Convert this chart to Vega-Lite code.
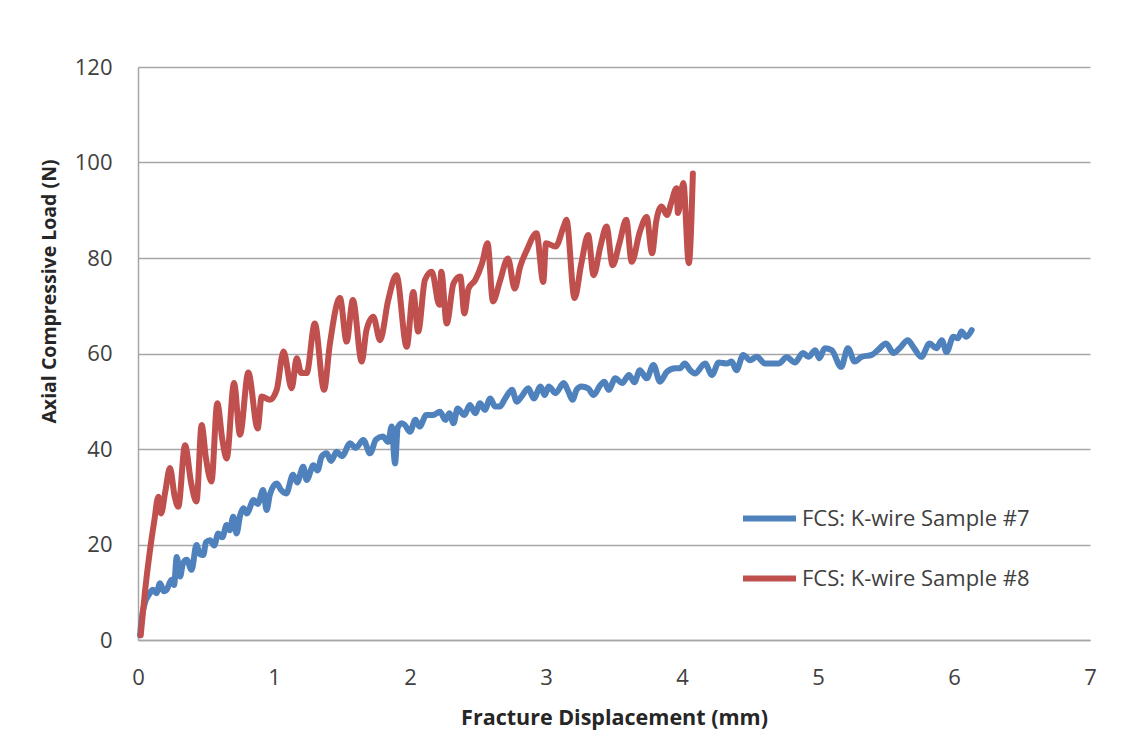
{
  "$schema": "https://vega.github.io/schema/vega-lite/v6.json",
  "width": 952,
  "height": 573,
  "autosize": {"type": "none"},
  "padding": {"left": 138, "top": 67, "right": 46, "bottom": 116},
  "background": "white",
  "config": {
    "view": {"stroke": null},
    "font": "Open Sans"
  },
  "datasets": {
    "s7": [
      {"x":0.015,"y":1},{"x":0.03,"y":5},{"x":0.05,"y":7.7},{"x":0.08,"y":9.5},{"x":0.11,"y":10.5},{"x":0.135,"y":9.8},{"x":0.162,"y":11.9},{"x":0.19,"y":10.2},{"x":0.21,"y":10.5},{"x":0.247,"y":12.6},{"x":0.265,"y":11.5},{"x":0.285,"y":17.4},{"x":0.31,"y":13.3},{"x":0.33,"y":16},{"x":0.358,"y":16.8},{"x":0.394,"y":14.7},{"x":0.43,"y":19.9},{"x":0.455,"y":18},{"x":0.48,"y":17.8},{"x":0.5,"y":20.5},{"x":0.53,"y":20.9},{"x":0.56,"y":19.8},{"x":0.59,"y":22.3},{"x":0.62,"y":21.5},{"x":0.652,"y":24.1},{"x":0.675,"y":23},{"x":0.7,"y":25.8},{"x":0.725,"y":22.3},{"x":0.75,"y":26},{"x":0.775,"y":27.6},{"x":0.8,"y":26.5},{"x":0.85,"y":29.3},{"x":0.88,"y":28.5},{"x":0.92,"y":31.4},{"x":0.946,"y":27.2},{"x":0.97,"y":30.5},{"x":1.02,"y":32.8},{"x":1.05,"y":31.5},{"x":1.09,"y":30.7},{"x":1.14,"y":34.6},{"x":1.17,"y":33},{"x":1.215,"y":36.3},{"x":1.24,"y":33.5},{"x":1.29,"y":36.6},{"x":1.32,"y":35.5},{"x":1.35,"y":38.4},{"x":1.387,"y":39.1},{"x":1.42,"y":37.5},{"x":1.46,"y":39.4},{"x":1.5,"y":38.5},{"x":1.56,"y":41.2},{"x":1.6,"y":40.2},{"x":1.657,"y":41.9},{"x":1.706,"y":39.1},{"x":1.75,"y":42},{"x":1.8,"y":42.6},{"x":1.84,"y":41.5},{"x":1.865,"y":44.7},{"x":1.89,"y":37},{"x":1.91,"y":44.5},{"x":1.94,"y":45.4},{"x":1.963,"y":45},{"x":2.0,"y":43.6},{"x":2.04,"y":46.1},{"x":2.07,"y":44.7},{"x":2.12,"y":47.1},{"x":2.17,"y":47.1},{"x":2.22,"y":47.8},{"x":2.26,"y":46.1},{"x":2.29,"y":47.5},{"x":2.32,"y":45.4},{"x":2.35,"y":48.5},{"x":2.4,"y":47.1},{"x":2.44,"y":49.2},{"x":2.48,"y":47.5},{"x":2.515,"y":49.6},{"x":2.55,"y":48.2},{"x":2.59,"y":50.6},{"x":2.625,"y":48.9},{"x":2.66,"y":48.9},{"x":2.7,"y":50.6},{"x":2.75,"y":52.4},{"x":2.785,"y":49.9},{"x":2.82,"y":51},{"x":2.87,"y":52.7},{"x":2.91,"y":50.6},{"x":2.96,"y":53.1},{"x":2.99,"y":51.3},{"x":3.02,"y":53.1},{"x":3.07,"y":51.7},{"x":3.13,"y":53.8},{"x":3.165,"y":52},{"x":3.195,"y":50.3},{"x":3.225,"y":52.4},{"x":3.26,"y":53.1},{"x":3.31,"y":52.7},{"x":3.35,"y":51.3},{"x":3.4,"y":53.4},{"x":3.43,"y":54.1},{"x":3.46,"y":52.4},{"x":3.51,"y":54.8},{"x":3.56,"y":53.8},{"x":3.61,"y":55.5},{"x":3.65,"y":54},{"x":3.69,"y":56.5},{"x":3.74,"y":54.8},{"x":3.79,"y":57.6},{"x":3.838,"y":54.1},{"x":3.89,"y":56.2},{"x":3.95,"y":56.9},{"x":3.985,"y":56.9},{"x":4.02,"y":57.9},{"x":4.06,"y":56.5},{"x":4.095,"y":55.8},{"x":4.17,"y":57.9},{"x":4.22,"y":55.5},{"x":4.27,"y":58.1},{"x":4.33,"y":57.9},{"x":4.365,"y":58.3},{"x":4.4,"y":56.5},{"x":4.45,"y":59.7},{"x":4.5,"y":58.6},{"x":4.55,"y":59.3},{"x":4.61,"y":57.9},{"x":4.71,"y":57.9},{"x":4.77,"y":59.2},{"x":4.83,"y":58.1},{"x":4.89,"y":60.1},{"x":4.93,"y":59.3},{"x":4.98,"y":60.7},{"x":5.01,"y":59},{"x":5.05,"y":61.1},{"x":5.1,"y":60.7},{"x":5.17,"y":57.2},{"x":5.22,"y":61.1},{"x":5.27,"y":58.3},{"x":5.32,"y":59.3},{"x":5.395,"y":59.7},{"x":5.44,"y":60.7},{"x":5.5,"y":62.1},{"x":5.555,"y":60.1},{"x":5.6,"y":61.1},{"x":5.66,"y":62.8},{"x":5.7,"y":61.4},{"x":5.76,"y":59.3},{"x":5.82,"y":62.1},{"x":5.87,"y":61.1},{"x":5.91,"y":62.8},{"x":5.945,"y":60.3},{"x":5.995,"y":63.5},{"x":6.03,"y":63.2},{"x":6.055,"y":64.6},{"x":6.09,"y":63.5},{"x":6.13,"y":64.9}
    ],
    "s8": [
      {"x":0.02,"y":1},{"x":0.05,"y":9.8},{"x":0.088,"y":18.8},{"x":0.12,"y":25},{"x":0.15,"y":30},{"x":0.17,"y":26.5},{"x":0.2,"y":31},{"x":0.235,"y":36},{"x":0.27,"y":30},{"x":0.296,"y":27.9},{"x":0.346,"y":40.8},{"x":0.39,"y":33},{"x":0.43,"y":29},{"x":0.468,"y":45},{"x":0.5,"y":38},{"x":0.54,"y":33.2},{"x":0.583,"y":49.6},{"x":0.62,"y":42},{"x":0.652,"y":38},{"x":0.706,"y":53.8},{"x":0.75,"y":43},{"x":0.811,"y":56},{"x":0.88,"y":44.3},{"x":0.909,"y":51},{"x":0.97,"y":50.3},{"x":1.02,"y":52.4},{"x":1.07,"y":60.4},{"x":1.13,"y":52.7},{"x":1.167,"y":59},{"x":1.2,"y":55.9},{"x":1.24,"y":55.9},{"x":1.3,"y":66.3},{"x":1.368,"y":52.4},{"x":1.41,"y":61.8},{"x":1.485,"y":71.6},{"x":1.534,"y":62.5},{"x":1.58,"y":71.2},{"x":1.645,"y":58.3},{"x":1.68,"y":64.9},{"x":1.73,"y":67.7},{"x":1.78,"y":62.8},{"x":1.84,"y":71.2},{"x":1.9,"y":76.4},{"x":1.976,"y":61.4},{"x":2.024,"y":72.9},{"x":2.06,"y":64.6},{"x":2.11,"y":75.4},{"x":2.16,"y":77.1},{"x":2.216,"y":70.2},{"x":2.23,"y":77.1},{"x":2.27,"y":66.3},{"x":2.32,"y":74.7},{"x":2.37,"y":76.1},{"x":2.4,"y":68.4},{"x":2.43,"y":73.6},{"x":2.48,"y":75.4},{"x":2.53,"y":78.9},{"x":2.57,"y":83.1},{"x":2.61,"y":70.9},{"x":2.66,"y":75},{"x":2.72,"y":79.9},{"x":2.77,"y":73.6},{"x":2.81,"y":78.2},{"x":2.86,"y":81.7},{"x":2.93,"y":85.2},{"x":2.98,"y":75},{"x":3.0,"y":83.1},{"x":3.07,"y":82.4},{"x":3.13,"y":86.6},{"x":3.15,"y":88},{"x":3.21,"y":71.6},{"x":3.26,"y":78.9},{"x":3.31,"y":84.8},{"x":3.35,"y":76.4},{"x":3.4,"y":82.4},{"x":3.445,"y":86.6},{"x":3.49,"y":78.5},{"x":3.54,"y":83.1},{"x":3.59,"y":88},{"x":3.63,"y":79.2},{"x":3.69,"y":85.5},{"x":3.74,"y":88.6},{"x":3.78,"y":81},{"x":3.81,"y":87.6},{"x":3.85,"y":90.8},{"x":3.89,"y":89},{"x":3.92,"y":91.5},{"x":3.96,"y":94.6},{"x":3.97,"y":89.4},{"x":4.01,"y":95.7},{"x":4.05,"y":78.9},{"x":4.08,"y":97.7}
    ]
  },
  "layer": [
    {
      "data": {"name": "s7"},
      "transform": [{"calculate": "'FCS: K-wire Sample #7'", "as": "sample"}],
      "mark": {"type": "line", "strokeWidth": 6, "interpolate": "monotone", "strokeCap": "round", "strokeJoin": "round"},
      "encoding": {
        "x": {"field": "x", "type": "quantitative"},
        "y": {"field": "y", "type": "quantitative"},
        "color": {"field": "sample", "type": "nominal"}
      }
    },
    {
      "data": {"name": "s8"},
      "transform": [{"calculate": "'FCS: K-wire Sample #8'", "as": "sample"}],
      "mark": {"type": "line", "strokeWidth": 6, "interpolate": "monotone", "strokeCap": "round", "strokeJoin": "round"},
      "encoding": {
        "x": {
          "field": "x", "type": "quantitative",
          "scale": {"domain": [0, 7], "nice": false, "zero": true},
          "axis": {
            "values": [0,1,2,3,4,5,6,7],
            "format": "d",
            "labelFlush": false,
            "title": "Fracture Displacement (mm)",
            "grid": false,
            "ticks": false,
            "domain": true, "domainColor": "#A6A6A6", "domainWidth": 1.5,
            "labelFont": "Open Sans", "labelFontSize": 22, "labelColor": "#404040", "labelPadding": 27,
            "titleFont": "Open Sans", "titleFontSize": 21.5, "titleFontWeight": "bold", "titleColor": "#262626", "titlePadding": 19
          }
        },
        "y": {
          "field": "y", "type": "quantitative",
          "scale": {"domain": [0, 120], "nice": false},
          "axis": {
            "values": [0,20,40,60,80,100,120],
            "title": "Axial Compressive Load (N)",
            "grid": true, "gridColor": "#A6A6A6", "gridWidth": 1.5,
            "ticks": false,
            "domain": true, "domainColor": "#A6A6A6", "domainWidth": 1.5,
            "labelFont": "Open Sans", "labelFontSize": 22, "labelColor": "#404040", "labelPadding": 26,
            "titleFont": "Open Sans", "titleFontSize": 19.5, "titleFontWeight": "bold", "titleColor": "#262626",
            "titleY": 224, "titlePadding": 15
          }
        },
        "color": {
          "field": "sample", "type": "nominal",
          "scale": {"domain": ["FCS: K-wire Sample #7", "FCS: K-wire Sample #8"], "range": ["#4F81BD", "#C0504D"]},
          "legend": {
            "title": null,
            "orient": "none",
            "legendX": 602,
            "legendY": 422,
            "symbolType": "stroke",
            "symbolSize": 2809,
            "symbolStrokeWidth": 6,
            "rowPadding": 18,
            "labelOffset": 3,
            "labelFont": "Open Sans",
            "labelFontSize": 22,
            "labelColor": "#404040",
            "labelLimit": 400
          }
        }
      }
    }
  ]
}
